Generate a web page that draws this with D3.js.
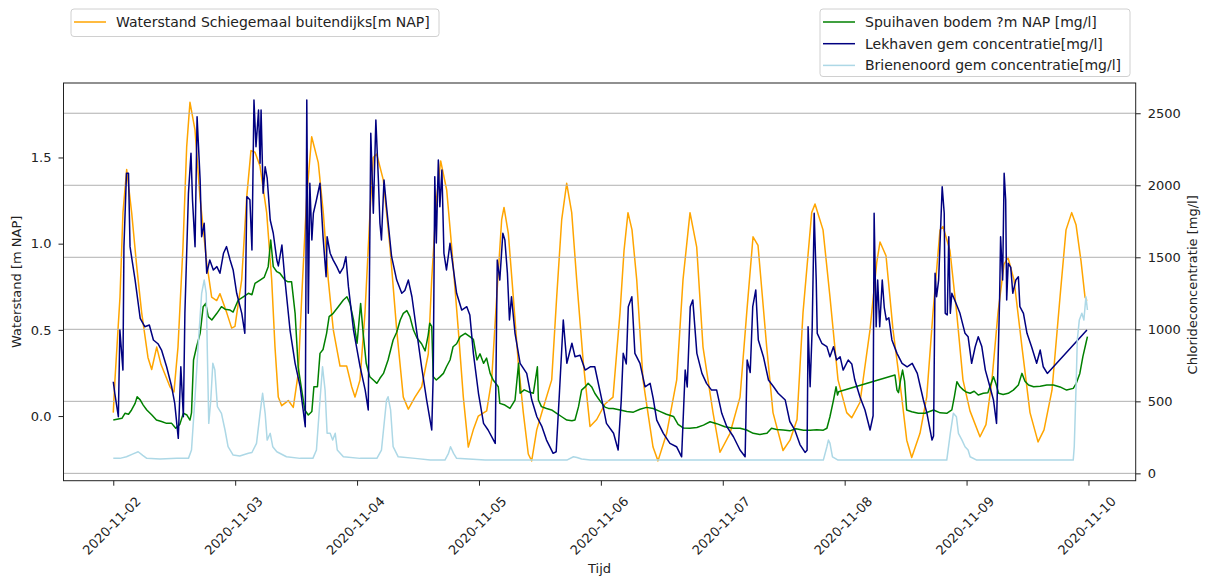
<!DOCTYPE html>
<html>
<head>
<meta charset="utf-8">
<script src="https://cdn.jsdelivr.net/npm/d3@7"></script>
<style>
  body { margin: 0; background: #fff; }
  svg { font-family: "DejaVu Sans", sans-serif; }
</style>
</head>
<body>
<div id="chart"></div>
<script>
// hours since 2020-11-02 00:00, value
var waterstand = [
  [0,0.02],[0.33,0.21],[1.32,0.69],[1.91,1.18],[2.64,1.43],[3.62,1.18],[4.61,0.87],[5.59,0.60],
  [6.83,0.34],[7.56,0.27],[8.55,0.40],[9.39,0.30],[11.16,0.17],[11.95,0.14],[12.74,0.40],[13.72,0.98],
  [14.45,1.56],[15.1,1.82],[16.09,1.66],[17.07,1.27],[18.39,0.89],[19.37,0.69],[20.36,0.67],[21.01,0.71],
  [22.33,0.60],[23.31,0.51],[23.96,0.52],[25.28,0.79],[26.27,1.27],[27.11,1.54],[27.9,1.53],[28.89,1.45],
  [30.2,1.18],[31.19,0.79],[31.84,0.40],[32.49,0.11],[33.16,0.06],[34.46,0.09],[35.44,0.05],[36.43,0.25],
  [37.1,0.69],[38.08,1.27],[39.06,1.62],[40.36,1.47],[41.35,1.18],[42.33,0.79],[43.32,0.50],[44.64,0.29],
  [45.96,0.29],[46.94,0.17],[47.59,0.11],[48.58,0.21],[49.56,0.60],[50.55,1.18],[51.19,1.50],[51.86,1.52],
  [53.16,1.37],[54.48,0.98],[55.8,0.50],[57.1,0.11],[58.09,0.04],[59.4,0.11],[60.72,0.17],[62.02,0.36],
  [62.69,0.79],[63.68,1.27],[64.46,1.48],[65.65,1.31],[66.63,0.98],[67.93,0.50],[68.92,0.11],[69.9,-0.18],
  [70.88,-0.08],[71.87,0.0],[73.52,0.03],[74.5,0.21],[75.49,0.69],[76.47,1.14],[76.93,1.21],[77.78,1.06],
  [78.76,0.69],[79.74,0.31],[80.73,0.02],[81.71,-0.22],[82.38,-0.26],[83.37,-0.08],[84.67,0.05],[86.32,0.21],
  [87.3,0.69],[88.29,1.14],[89.27,1.35],[90.26,1.18],[91.24,0.79],[92.54,0.31],[93.86,-0.06],[95.18,-0.02],
  [96.81,0.07],[98.39,0.11],[99.77,0.60],[100.56,0.96],[101.34,1.18],[102.13,1.08],[103.06,0.79],[104.3,0.21],
  [106.27,-0.18],[107.25,-0.26],[108.96,-0.10],[110.93,0.21],[112.17,0.79],[113.55,1.18],[114.87,0.98],[116.11,0.40],
  [118.08,0.02],[119.46,-0.21],[121.43,-0.10],[123.4,0.11],[124.72,0.60],[125.96,1.04],[126.94,0.99],[128.65,0.40],
  [129.89,0.02],[131.86,-0.20],[133.24,-0.14],[134.62,-0.02],[135.8,0.60],[137.51,1.18],[138.16,1.23],[139.74,1.08],
  [141.11,0.69],[142.69,0.21],[144.4,0.02],[145.38,-0.01],[147.02,0.08],[148.99,0.50],[150.31,0.89],[150.96,1.01],
  [152.14,0.93],[153.52,0.50],[155.23,0.11],[156.22,-0.14],[157.2,-0.24],[158.83,-0.10],[160.15,0.11],[161.39,0.60],
  [162.77,1.08],[163.36,1.10],[164.73,0.96],[166.05,0.60],[167.29,0.21],[168.67,0.03],[170.64,-0.12],[171.82,-0.05],
  [173.0,0.21],[174.19,0.60],[175.37,0.88],[176.16,0.92],[177.34,0.79],[178.91,0.40],[180.49,0.02],[182.07,-0.15],
  [183.25,-0.08],[184.82,0.15],[186.4,0.69],[187.58,1.08],[188.7,1.18],[189.55,1.11],[190.53,0.90],[191.32,0.69],
  [191.7,0.67]
];

var spuihaven = [
  [0,370],[1.7,382],[2.3,417],[3.0,410],[3.6,440],[4.3,486],[4.7,532],[5.3,510],[5.9,474],[6.6,440],[7.6,405],
  [8.5,370],[9.5,360],[10.5,347],[11.5,347],[12.3,313],[13.1,340],[13.8,417],[14.5,405],[15.1,370],[15.4,420],
  [15.8,787],[16.4,879],[17.1,972],[17.7,1157],[18.2,1180],[18.7,1088],[19.4,1065],[20.4,1111],[21.3,1157],
  [22.0,1140],[23.0,1134],[23.6,1120],[24.6,1203],[25.6,1226],[26.6,1250],[27.3,1240],[27.9,1319],[28.9,1342],
  [29.7,1360],[30.5,1435],[31.0,1620],[31.5,1435],[32.2,1400],[32.8,1389],[33.8,1342],[34.4,1330],[35.1,1331],
  [35.8,1111],[36.4,740],[37.1,578],[37.7,440],[38.4,405],[39.1,430],[39.5,601],[40.2,601],[40.7,833],[41.3,860],
  [42.0,972],[42.5,1088],[43.3,1111],[44.3,1157],[45.3,1203],[46.0,1226],[46.6,1180],[47.3,1065],[48.0,903],
  [48.7,1180],[49.2,972],[49.8,764],[50.5,671],[51.2,648],[51.9,625],[52.5,660],[53.2,694],[54.1,787],[55.1,926],
  [55.8,980],[56.5,1065],[57.1,1111],[57.8,1130],[58.4,1088],[59.1,995],[59.8,940],[60.7,900],[61.4,850],
  [62.0,960],[62.3,1042],[62.7,1020],[63.0,671],[63.6,648],[64.3,670],[65.0,694],[65.6,740],[66.3,787],[66.9,879],
  [67.6,900],[68.3,949],[69.3,972],[70.2,949],[70.9,930],[71.6,787],[72.2,830],[72.9,764],[73.5,800],[74.2,694],
  [74.8,648],[75.8,601],[76.1,486],[77.1,474],[78.1,451],[79.1,509],[79.8,764],[80.1,556],[80.9,580],[81.7,567],
  [82.7,556],[83.5,740],[83.7,509],[84.3,463],[85.3,450],[86.3,440],[87.3,417],[88.3,393],[89.3,370],[90.3,365],
  [90.9,370],[91.6,463],[92.2,578],[92.9,600],[93.5,625],[94.2,600],[94.8,556],[95.5,520],[96.2,486],[96.8,460],
  [97.5,451],[98.4,450],[99.8,440],[101.1,430],[102.4,425],[103.7,445],[105.0,458],[106.3,450],[107.6,430],
  [108.9,410],[110.3,395],[111.2,340],[112.2,315],[113.5,313],[114.9,318],[116.2,335],[117.5,358],[118.8,345],
  [120.4,324],[122.1,313],[123.4,313],[124.7,301],[126.0,278],[127.3,270],[128.7,278],[129.6,313],[130.6,305],
  [131.9,301],[133.2,295],[134.4,310],[135.9,300],[137.2,300],[138.5,302],[139.8,300],[140.5,313],[141.1,393],
  [141.8,509],[142.3,601],[142.6,544],[142.8,567],[153.9,683],[154.3,578],[154.6,560],[155.0,648],[155.4,717],
  [155.8,640],[156.2,440],[157.2,428],[158.5,417],[159.8,417],[161.5,440],[162.8,420],[164.1,417],[165.1,440],
  [165.6,532],[166.1,636],[166.7,601],[167.4,578],[167.9,565],[168.7,556],[169.5,570],[170.3,544],[171.3,556],
  [172.2,560],[172.6,601],[173.3,671],[173.8,620],[174.3,556],[175.2,548],[176.2,556],[177.2,578],[178.2,613],
  [178.9,694],[179.5,640],[180.2,613],[181.2,601],[182.5,605],[183.8,613],[185.1,613],[186.4,600],[187.7,578],
  [189.0,590],[189.6,625],[190.3,694],[190.9,810],[191.5,903],[191.8,949]
];

var lekhaven = [
  [0,636],[0.3,556],[1.0,393],[1.3,995],[1.9,717],[2.1,1574],[2.6,2083],[3.0,2083],[3.3,1574],[3.7,1480],
  [4.3,1342],[5.3,1076],[6.2,1018],[7.1,1030],[7.9,926],[8.8,900],[9.5,856],[10.5,740],[11.5,601],[12.1,486],
  [12.8,243],[13.3,740],[13.8,393],[14.1,1111],[14.8,1944],[15.3,2222],[15.6,1898],[16.1,1574],[16.5,2476],
  [17.1,2037],[17.4,1643],[17.9,1736],[18.4,1389],[19.0,1481],[19.7,1412],[20.4,1435],[21.0,1389],[21.7,1528],
  [22.3,1574],[23.0,1481],[23.6,1412],[24.3,1250],[25.3,1111],[25.9,972],[26.3,1921],[26.9,1900],[27.3,1551],
  [27.7,2592],[28.1,2268],[28.6,2523],[28.9,2153],[29.1,2523],[29.5,1944],[29.9,2129],[30.3,2050],[30.9,1759],
  [31.5,1667],[32.2,1481],[32.5,1440],[33.2,1585],[33.8,1342],[34.8,995],[35.8,764],[36.8,601],[37.8,324],
  [38.1,2592],[38.4,1111],[38.7,2014],[39.1,1620],[39.4,1806],[40.0,1898],[40.7,2014],[41.3,1643],[41.9,1365],
  [42.1,1643],[42.7,1528],[43.3,1480],[44.0,1435],[44.6,1389],[45.3,1430],[45.8,1504],[46.3,1296],[47.3,995],
  [48.6,740],[49.6,578],[50.2,440],[50.7,2361],[51.2,1806],[51.7,2453],[52.2,2037],[52.5,1736],[52.8,1620],
  [53.3,2037],[53.8,1851],[54.8,1504],[55.8,1342],[56.8,1250],[57.4,1270],[58.1,1342],[58.8,1226],[59.7,995],
  [60.7,740],[61.7,509],[62.7,301],[63.0,694],[63.3,2060],[63.6,1600],[64.0,2176],[64.3,1851],[64.7,2106],
  [65.1,1528],[65.6,1412],[66.3,1597],[66.9,1435],[67.6,1250],[68.6,1134],[69.6,1157],[70.2,1100],[70.9,833],
  [71.9,556],[72.9,347],[73.8,301],[75.2,208],[75.6,1481],[76.1,1342],[76.7,1667],[77.1,1620],[77.6,1389],
  [78.0,1065],[78.4,1226],[79.1,972],[80.1,764],[81.4,694],[82.4,509],[83.4,393],[84.4,324],[85.3,231],
  [86.6,139],[87.2,150],[87.8,532],[88.6,1065],[89.3,764],[90.3,903],[90.9,810],[91.9,820],[92.9,717],
  [93.9,740],[94.8,740],[96.2,509],[97.1,347],[98.5,278],[99.4,162],[100.0,500],[100.4,833],[101.0,760],
  [101.4,1157],[102.1,1226],[102.7,833],[103.7,764],[104.7,601],[105.7,625],[106.3,520],[107.0,370],[108.3,278],
  [109.6,208],[110.9,185],[111.9,115],[112.6,717],[113.0,600],[113.6,1157],[114.1,1203],[114.9,833],[115.9,694],
  [116.8,625],[117.8,578],[118.8,578],[119.8,417],[120.8,324],[122.1,254],[123.4,162],[124.4,115],[124.8,787],
  [125.4,700],[125.9,1157],[126.5,1273],[127.0,926],[128.0,810],[129.0,648],[130.0,601],[130.9,556],[132.3,509],
  [133.2,360],[134.2,300],[135.2,200],[136.2,145],[136.6,160],[136.8,1018],[137.2,601],[137.6,1000],[138.0,1806],
  [138.4,1342],[138.6,972],[139.5,903],[140.5,880],[141.1,810],[141.8,879],[142.4,787],[143.1,810],[143.7,717],
  [144.7,787],[145.4,760],[146.0,648],[147.0,532],[148.0,440],[149.0,301],[149.6,400],[149.8,1806],[150.2,1018],
  [150.5,1342],[150.9,1018],[151.4,1342],[151.8,1150],[152.2,1065],[152.7,1080],[153.3,926],[154.3,833],
  [155.3,764],[156.3,740],[157.3,764],[158.3,694],[158.9,601],[159.5,509],[160.2,417],[161.2,231],[161.5,260],
  [161.8,1389],[162.1,1226],[162.5,1342],[162.8,1620],[163.2,1990],[163.6,1806],[163.8,1111],[164.2,1100],
  [164.5,1643],[164.8,1111],[165.1,1250],[165.7,1200],[166.7,1111],[167.7,972],[168.3,949],[169.0,764],
  [169.7,879],[170.3,949],[171.0,880],[171.7,717],[172.6,601],[173.3,509],[173.9,347],[174.5,1203],[174.7,1643],
  [175.1,1342],[175.4,2083],[175.7,1900],[175.9,1203],[176.2,1458],[176.7,1430],[177.1,1250],[177.7,1342],
  [178.2,1365],[178.5,1157],[179.2,1111],[179.9,972],[180.8,879],[181.8,764],[182.5,856],[183.1,740],
  [183.9,694],[191.7,995]
];

var brienenoord = [
  [0,104],[1.3,104],[2.6,115],[3.9,135],[4.9,150],[5.8,125],[6.6,104],[9.2,100],[12.5,104],[14.8,104],
  [15.4,162],[16.1,532],[16.7,879],[17.4,1250],[17.9,1342],[18.3,1250],[18.5,879],[18.8,347],[19.2,509],
  [19.6,764],[20.0,717],[20.5,463],[21.3,417],[22.0,301],[22.6,185],[23.6,127],[24.9,120],[26.6,139],
  [27.3,145],[28.2,208],[28.9,417],[29.4,556],[29.9,417],[30.3,231],[30.9,278],[31.4,185],[32.2,150],
  [34.1,115],[36.8,104],[39.3,104],[40.0,162],[40.7,509],[41.2,740],[41.7,578],[42.1,278],[42.7,278],
  [43.2,231],[43.7,278],[44.1,162],[45.3,115],[48.6,104],[51.9,104],[52.8,162],[53.8,509],[54.1,532],
  [54.6,440],[55.1,185],[56.1,115],[59.4,104],[62.4,92],[65.3,92],[66.0,139],[66.4,185],[67.0,139],
  [67.6,104],[73.2,92],[89.3,92],[90.6,115],[91.3,110],[92.2,100],[93.9,92],[115.5,92],[139.8,92],
  [140.5,185],[140.8,231],[141.1,210],[141.6,115],[142.7,92],[164.1,92],[164.8,278],[165.4,417],[166.0,393],
  [166.4,278],[167.1,231],[167.7,185],[168.3,162],[168.7,115],[170.0,92],[189.0,92],[189.2,185],[189.6,648],
  [189.8,926],[190.2,1065],[190.7,1111],[191.1,1065],[191.5,1226],[191.8,1134]
];

var dayTicks = ["2020-11-02","2020-11-03","2020-11-04","2020-11-05","2020-11-06","2020-11-07","2020-11-08","2020-11-09","2020-11-10"];
var leftTicks = [0, 0.5, 1.0, 1.5];
var rightTicks = [0, 500, 1000, 1500, 2000, 2500];

var width = 1207, height = 577;
var plotLeft = 63.5, plotRight = 1135.7, plotTop = 83, plotBottom = 480.7;

var base = Date.UTC(2020, 10, 2);
function toDate(h) { return new Date(base + h * 3600e3); }

var svg = d3.select("#chart")
  .append("svg")
    .attr("width", width)
    .attr("height", height);

var x = d3.scaleUtc()
  .domain([toDate(-9.8), toDate(201.3)])
  .range([plotLeft, plotRight]);

var yL = d3.scaleLinear()
  .domain([-0.375, 1.932])
  .range([plotBottom, plotTop]);

var yR = d3.scaleLinear()
  .domain([-51, 2710])
  .range([plotBottom, plotTop]);

var lineL = d3.line()
  .x(function(d) { return x(toDate(d[0])); })
  .y(function(d) { return yL(d[1]); });

var lineR = d3.line()
  .x(function(d) { return x(toDate(d[0])); })
  .y(function(d) { return yR(d[1]); });

svg.append("path")
  .datum(waterstand)
  .attr("d", lineL)
  .attr("fill", "none")
  .attr("stroke", "orange")
  .attr("stroke-width", 1.5)
  .attr("stroke-linejoin", "round");

// grid lines of the right axis (twin axis is drawn over the left one)
svg.append("g")
  .selectAll("line")
  .data(rightTicks)
  .enter()
  .append("line")
    .attr("x1", plotLeft)
    .attr("x2", plotRight)
    .attr("y1", function(d) { return yR(d); })
    .attr("y2", function(d) { return yR(d); })
    .attr("stroke", "#b0b0b0")
    .attr("stroke-width", 1);

var seriesR = [
  {data: spuihaven, color: "green"},
  {data: lekhaven, color: "navy"},
  {data: brienenoord, color: "lightblue"}
];

seriesR.forEach(function(s) {
  svg.append("path")
    .datum(s.data)
    .attr("d", lineR)
    .attr("fill", "none")
    .attr("stroke", s.color)
    .attr("stroke-width", 1.5)
    .attr("stroke-linejoin", "round");
});

// frame
svg.append("rect")
  .attr("x", plotLeft)
  .attr("y", plotTop)
  .attr("width", plotRight - plotLeft)
  .attr("height", plotBottom - plotTop)
  .attr("fill", "none")
  .attr("stroke", "#222")
  .attr("stroke-width", 1);

var fontSize = "13px";

// x axis
var xAxis = svg.append("g")
  .attr("transform", "translate(0," + plotBottom + ")")
  .call(d3.axisBottom(x)
    .tickValues(dayTicks.map(function(d) { return new Date(d + "T00:00:00Z"); }))
    .tickFormat(d3.utcFormat("%Y-%m-%d"))
    .tickSize(5));
xAxis.select(".domain").remove();
xAxis.selectAll("line").attr("stroke", "#222");
xAxis.selectAll("text")
  .attr("font-family", "DejaVu Sans")
  .attr("font-size", fontSize)
  .attr("fill", "#222")
  .attr("text-anchor", "middle")
  .attr("x", -2)
  .attr("y", 45)
  .attr("dy", "0.35em")
  .attr("transform", "rotate(-45,-2,45)");

// left axis
var yAxisL = svg.append("g")
  .attr("transform", "translate(" + plotLeft + ",0)")
  .call(d3.axisLeft(yL).tickValues(leftTicks).tickFormat(d3.format(".1f")).tickSize(5).tickPadding(7));
yAxisL.select(".domain").remove();
yAxisL.selectAll("line").attr("stroke", "#222");
yAxisL.selectAll("text").attr("font-family", "DejaVu Sans").attr("font-size", fontSize).attr("fill", "#222");

// right axis
var yAxisR = svg.append("g")
  .attr("transform", "translate(" + plotRight + ",0)")
  .call(d3.axisRight(yR).tickValues(rightTicks).tickFormat(d3.format("d")).tickSize(5).tickPadding(7));
yAxisR.select(".domain").remove();
yAxisR.selectAll("line").attr("stroke", "#222");
yAxisR.selectAll("text").attr("font-family", "DejaVu Sans").attr("font-size", fontSize).attr("fill", "#222");

// axis titles
svg.append("text")
  .attr("transform", "translate(21," + ((plotTop + plotBottom) / 2) + ") rotate(-90)")
  .attr("text-anchor", "middle")
  .attr("font-size", fontSize)
  .attr("fill", "#222")
  .text("Waterstand [m NAP]");

svg.append("text")
  .attr("transform", "translate(1197," + ((plotTop + plotBottom) / 2 + 3) + ") rotate(-90)")
  .attr("text-anchor", "middle")
  .attr("font-size", fontSize)
  .attr("fill", "#222")
  .text("Chlorideconcentratie [mg/l]");

svg.append("text")
  .attr("x", (plotLeft + plotRight) / 2)
  .attr("y", 573)
  .attr("text-anchor", "middle")
  .attr("font-size", fontSize)
  .attr("fill", "#222")
  .text("Tijd");

// legends
var legendSize = "14px";
function legend(x0, y0, w, h, items) {
  var g = svg.append("g");
  g.append("rect")
    .attr("x", x0)
    .attr("y", y0)
    .attr("width", w)
    .attr("height", h)
    .attr("rx", 3)
    .attr("fill", "#fff")
    .attr("stroke", "#d0d0d0");
  items.forEach(function(it, i) {
    var cy = y0 + 13 + i * 21.7;
    g.append("line")
      .attr("x1", x0 + 3).attr("x2", x0 + 35)
      .attr("y1", cy).attr("y2", cy)
      .attr("stroke", it.color)
      .attr("stroke-width", 1.5);
    g.append("text")
      .attr("x", x0 + 45)
      .attr("y", cy)
      .attr("dy", "0.35em")
      .attr("font-size", legendSize)
      .attr("fill", "#222")
      .text(it.label);
  });
}

legend(71, 9, 368, 27.5, [{label: "Waterstand Schiegemaal buitendijks[m NAP]", color: "orange"}]);
legend(820, 9, 310, 67.5, [
  {label: "Spuihaven bodem ?m NAP [mg/l]", color: "green"},
  {label: "Lekhaven gem concentratie[mg/l]", color: "navy"},
  {label: "Brienenoord gem concentratie[mg/l]", color: "lightblue"}
]);
</script>
</body>
</html>
